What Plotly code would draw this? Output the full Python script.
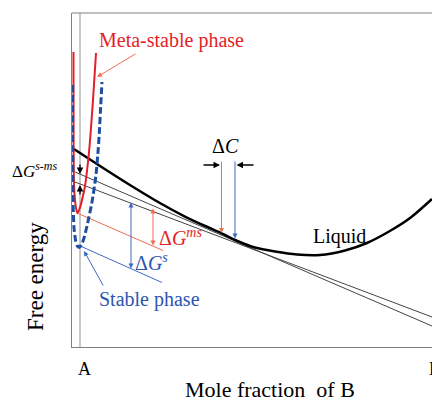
import plotly.graph_objects as go

FONT = "Liberation Serif"

# Composition axis: A = 0, B = 1; free energy in arbitrary units (0..10)
liquid_x = [-0.029, 0.046, 0.132, 0.218, 0.290, 0.348, 0.397, 0.434, 0.491, 0.549,
            0.612, 0.678, 0.750, 0.813, 0.879, 0.937, 1.000]
liquid_g = [5.928, 5.419, 4.850, 4.311, 3.907, 3.623, 3.398, 3.204, 2.979, 2.859,
            2.769, 2.754, 2.889, 3.114, 3.473, 3.862, 4.431]

meta_x = [-0.0302, -0.0302, -0.0299, -0.0287, -0.0259, -0.0230, -0.0187, -0.0129,
          -0.0057, 0.0029, 0.0115, 0.0172, 0.0259, 0.0345]
meta_g = [8.832, 7.395, 5.898, 4.850, 4.401, 4.162, 4.012, 4.132,
          4.401, 4.820, 5.539, 6.168, 7.395, 8.802]

stable_x = [-0.0325, -0.0325, -0.0316, -0.0287, -0.0244, -0.0201, -0.0144, -0.0072,
            0.0000, 0.0086, 0.0230, 0.0345, 0.0411, 0.0440, 0.0474, 0.0517]
stable_g = [7.844, 5.898, 4.401, 3.563, 3.204, 3.039, 2.979, 3.054,
            3.263, 3.623, 4.341, 5.150, 5.958, 6.407, 7.096, 7.934]

# Common tangents to the liquid curve
tangent_ms_x = [-0.0259, 1.0]
tangent_ms_g = [5.240, 0.629]
tangent_s_x = [-0.0259, 1.0]
tangent_s_g = [4.940, 0.898]

# Parallels through the phase minima
par_ms_x = [-0.0201, 0.227]
par_ms_g = [4.012, 2.889]
par_s_x = [-0.0172, 0.2241]
par_s_g = [3.054, 1.931]

pure_a_x = -0.0115

# Composition tick labels
comp_ticks = [0.0, 0.9856]
comp_labels = ["A", "B"]

# Driving-force arrows: (x, g_top, g_bottom)
dgs_arrow = (0.1351, 4.371, 2.350)
dgms_arrow = (0.1983, 4.192, 3.039)
# Tangent-point markers: (x, g_from, g_to)
dc_ms_arrow = (0.3951, 5.599, 3.413)
dc_s_arrow = (0.4339, 5.599, 3.249)
# Horizontal delta-C pointers: (x_tail, x_head, g)
dc_left = (0.3391, 0.3908, 5.449)
dc_right = (0.4914, 0.4382, 5.449)
# Gap between the two tangents at A: (x, g_tail, g_head)
dsms_down = (pure_a_x, 5.509, 5.180)
dsms_up = (pure_a_x, 4.521, 4.850)
# Label pointers: (x_tail, g_tail, x_head, g_head)
meta_pointer = (0.1523, 8.802, 0.0374, 8.084)
stable_pointer = (0.0575, 1.796, 0.0, 2.874)

RED = "#e41e26"
RED_LIGHT = "#f26c4f"
BLUE = "#1f4ea1"
BLUE_LIGHT = "#4169c4"
BLUE_TEXT = "#2d55b0"
FRAME = "#808080"

fig = go.Figure()

def line(x, y, color, width, dash=None, shape="linear", smoothing=1.0):
    fig.add_trace(go.Scatter(
        x=x, y=y, mode="lines", hoverinfo="skip", showlegend=False,
        line=dict(color=color, width=width, dash=dash, shape=shape,
                  smoothing=smoothing)))

line(tangent_ms_x, tangent_ms_g, "#444444", 1)
line(tangent_s_x, tangent_s_g, "#444444", 1)
line(par_ms_x, par_ms_g, RED_LIGHT, 1)
line(par_s_x, par_s_g, BLUE_LIGHT, 1)
line(liquid_x, liquid_g, "black", 2.5, shape="spline", smoothing=0.8)
line(meta_x, meta_g, RED, 2, shape="spline", smoothing=0.6)
line(stable_x, stable_g, BLUE, 3, dash="7px,3px", shape="spline", smoothing=0.6)

annotations = []

def arrow(x_head, y_head, x_tail, y_tail, color, width=1.0, both=False, size=1.0):
    annotations.append(dict(
        x=x_head, y=y_head, ax=x_tail, ay=y_tail, xref="x", yref="y",
        axref="x", ayref="y", text="", showarrow=True,
        arrowhead=2, startarrowhead=2, arrowsize=size, startarrowsize=size,
        arrowwidth=width, arrowcolor=color,
        arrowside="end+start" if both else "end"))

x, top, bot = dgs_arrow
arrow(x, bot, x, top, BLUE_LIGHT, 1.0, both=True)
x, top, bot = dgms_arrow
arrow(x, bot, x, top, RED_LIGHT, 1.0, both=True)
x, g0, g1 = dc_ms_arrow
arrow(x, g1, x, g0, RED_LIGHT, 1.0)
x, g0, g1 = dc_s_arrow
arrow(x, g1, x, g0, BLUE_LIGHT, 1.0)
xt, xh, g = dc_left
arrow(xh, g, xt, g, "black", 1.3)
xt, xh, g = dc_right
arrow(xh, g, xt, g, "black", 1.3)
x, gt, gh = dsms_down
arrow(x, gh, x, gt, "black", 1.3)
x, gt, gh = dsms_up
arrow(x, gh, x, gt, "black", 1.3)
xt, gt, xh, gh = meta_pointer
arrow(xh, gh, xt, gt, RED_LIGHT, 1.0)
xt, gt, xh, gh = stable_pointer
arrow(xh, gh, xt, gt, BLUE_LIGHT, 1.0)

def label(text, x, y, color="black", size=20, xanchor="center", xref="x",
          yref="y", angle=0):
    annotations.append(dict(
        text=text, x=x, y=y, showarrow=False, textangle=angle,
        xref=xref, yref=yref, xanchor=xanchor, yanchor="middle",
        font=dict(family=FONT, size=size, color=color)))

label("Meta-stable phase", 0.25, 9.162, RED)
label("Stable phase", 0.1868, 1.422, BLUE_TEXT)
label("Liquid", 0.7356, 3.323)
label("Δ<i>C</i>", 0.408, 6.018)
label("Δ<i>G</i><sup><i>ms</i></sup>", 0.2098, 3.293, RED, xanchor="left")
label("Δ<i>G</i><sup><i>s</i></sup>", 0.1408, 2.545, BLUE_TEXT, xanchor="left")
label("Δ<i>G</i><sup><i>s-ms</i></sup>", -0.1028, 0.53, size=17,
      xref="paper", yref="paper")
label(comp_labels[0], comp_ticks[0], -0.0659, size=18, yref="paper")
label(comp_labels[1], comp_ticks[1], -0.0659, size=18, xanchor="left",
      yref="paper")
label("Mole fraction\u00a0 of B", 0.55, -0.1287, size=22,
      xref="paper", yref="paper")
label("Free energy", -0.1, 0.2096, size=23, xref="paper", yref="paper",
      angle=-90)

fig.update_layout(
    width=432, height=401,
    margin=dict(l=72, r=0, t=13, b=54),
    paper_bgcolor="white", plot_bgcolor="white",
    annotations=annotations,
    shapes=[
        dict(type="line", xref="x", yref="paper", x0=pure_a_x, x1=pure_a_x,
             y0=0, y1=1, line=dict(color="#c9c9c9", width=2), layer="below"),
        dict(type="line", xref="paper", yref="paper", x0=0, x1=1.02,
             y0=1, y1=1, line=dict(color=FRAME, width=1)),
    ],
    xaxis=dict(range=[-1 / 29, 1.0], showgrid=False, zeroline=False,
               showline=True, mirror=False, linecolor=FRAME, linewidth=1,
               showticklabels=False, ticks=""),
    yaxis=dict(range=[0, 10], showgrid=False, zeroline=False, showline=True,
               mirror=False, linecolor=FRAME, linewidth=1,
               showticklabels=False, ticks=""),
)

fig.write_html("out.html")
